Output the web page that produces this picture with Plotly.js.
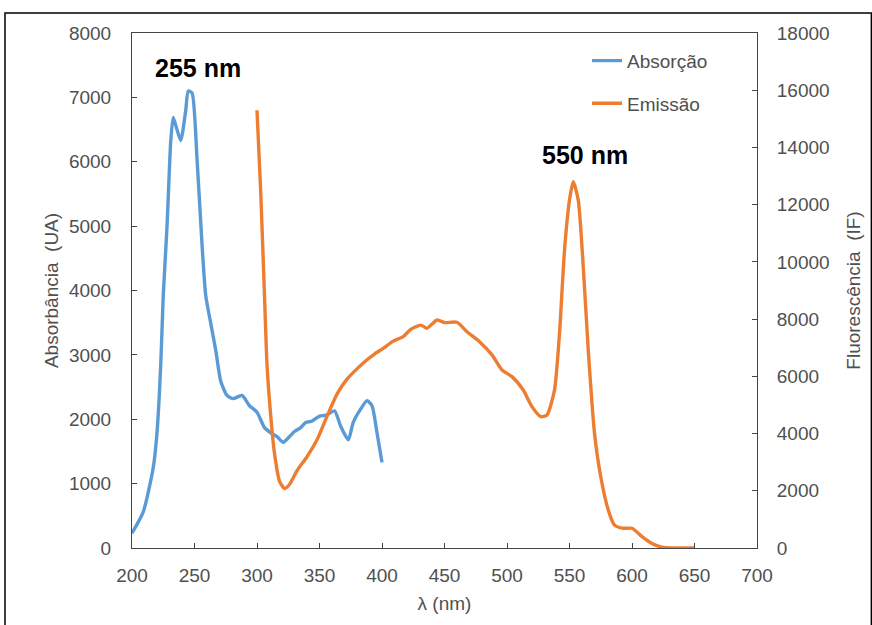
<!DOCTYPE html>
<html>
<head>
<meta charset="utf-8">
<script src="https://cdn.plot.ly/plotly-3.0.1.min.js"></script>
<style>html,body{margin:0;padding:0;background:#fff;}#chart{width:872px;height:625px;}</style>
</head>
<body>
<div id="chart"></div>
<script>
// Absorption (left axis)
const absX = [200, 209, 217, 220, 223, 225, 228, 231, 233, 236, 239, 243, 245, 248, 252, 256, 259, 263, 267, 271, 276, 281, 288, 294, 300, 306, 311, 316, 321, 324, 330, 335, 339, 344, 350, 355, 362, 367, 373, 377, 383, 388, 392, 396, 400];
const absY = [230, 560, 1250, 1790, 2850, 3920, 4990, 6320, 6690, 6500, 6330, 6800, 7100, 7070, 6050, 4720, 3920, 3490, 3070, 2590, 2370, 2320, 2370, 2210, 2110, 1870, 1790, 1730, 1640, 1690, 1810, 1870, 1950, 1970, 2050, 2060, 2130, 1890, 1680, 1950, 2160, 2290, 2210, 1790, 1330];
// Emission (right axis)
const emX = [300, 303, 306, 308, 311, 314, 318, 322, 326, 332, 340, 348, 356, 364, 372, 380, 388, 394, 401, 409, 417, 423, 431, 436, 444, 450, 460, 468, 478, 488, 496, 504, 513, 520, 527, 532, 538, 542, 546, 550, 553, 557, 561, 565, 570, 575, 581, 586, 593, 600, 608, 616, 624, 635, 650];
const emY = [15300, 12420, 8820, 6420, 4620, 3300, 2340, 2080, 2220, 2700, 3190, 3780, 4600, 5380, 5900, 6260, 6580, 6780, 6980, 7230, 7390, 7640, 7790, 7680, 7970, 7880, 7890, 7560, 7210, 6750, 6220, 5990, 5520, 4940, 4590, 4650, 5520, 7500, 10400, 12160, 12800, 12160, 9830, 6920, 4010, 2490, 1330, 800, 690, 690, 400, 160, 30, 0, 0];
const seriesNames = ["Absorção", "Emissão"];
const peakLabels = ["255 nm", "550 nm"];

const font = "Liberation Sans, Arial, sans-serif";
const grey = "#505050";
const fs = 19;

const traces = [
  {x: absX, y: absY, name: seriesNames[0], type: "scatter", mode: "lines",
   line: {color: "#5B9BD5", width: 3.4, shape: "spline", smoothing: 0.6}, legendgroup: "a", yaxis: "y"},
  {x: emX, y: emY, name: seriesNames[1], type: "scatter", mode: "lines",
   line: {color: "#ED7D31", width: 3.4, shape: "spline", smoothing: 0.6}, legendgroup: "b", yaxis: "y2"}
];

const layout = {
  width: 872, height: 625,
  margin: {l: 132, r: 115, t: 33, b: 77},
  paper_bgcolor: "#fff", plot_bgcolor: "#fff",
  font: {family: font, color: grey, size: fs},
  showlegend: true,
  legend: {x: 0.728, y: 0.983, xanchor: "left", yanchor: "top", bgcolor: "rgba(0,0,0,0)",
           font: {family: font, size: fs, color: grey}, traceorder: "grouped", tracegroupgap: 15},
  xaxis: {range: [200, 700], dtick: 50, tick0: 200, showgrid: false, zeroline: false,
          showline: true, linecolor: "#444", linewidth: 1, mirror: true,
          ticks: "inside", ticklen: 5, tickcolor: "#444", ticklabelstandoff: 10,
          tickfont: {family: font, size: fs, color: grey},
          title: {text: "λ (nm)", font: {family: font, size: fs, color: grey}, standoff: 11}},
  yaxis: {range: [0, 8000], dtick: 1000, showgrid: false, zeroline: false,
          showline: true, linecolor: "#444", linewidth: 1,
          ticks: "inside", ticklen: 5, tickcolor: "#444", ticklabelstandoff: 16,
          tickfont: {family: font, size: fs, color: grey},
          title: {text: "Absorbância  (UA)", font: {family: font, size: fs, color: grey}, standoff: 5}},
  yaxis2: {range: [0, 18000], dtick: 2000, overlaying: "y", side: "right", showgrid: false, zeroline: false,
           showline: true, linecolor: "#444", linewidth: 1, tickformat: "d",
           ticks: "inside", ticklen: 5, tickcolor: "#444", ticklabelstandoff: 15,
           tickfont: {family: font, size: fs, color: grey},
           title: {text: "Fluorescência  (IF)", font: {family: font, size: fs, color: grey}, standoff: 18}},
  annotations: [
    {x: 253, y: 7460, xref: "x", yref: "y", text: "<b>" + peakLabels[0] + "</b>", showarrow: false,
     font: {family: font, size: 25, color: "#000"}},
    {x: 562.4, y: 6105, xref: "x", yref: "y", text: "<b>" + peakLabels[1] + "</b>", showarrow: false,
     font: {family: font, size: 25, color: "#000"}}
  ],
  shapes: [
    {type: "rect", xref: "paper", yref: "paper", x0: -0.2032, x1: 1.183, y0: -0.16, y1: 1.0388,
     line: {color: "#000", width: 1.5}, fillcolor: "rgba(0,0,0,0)", layer: "below"}
  ]
};

Plotly.newPlot("chart", traces, layout, {displayModeBar: false, staticPlot: true});
</script>
</body>
</html>
